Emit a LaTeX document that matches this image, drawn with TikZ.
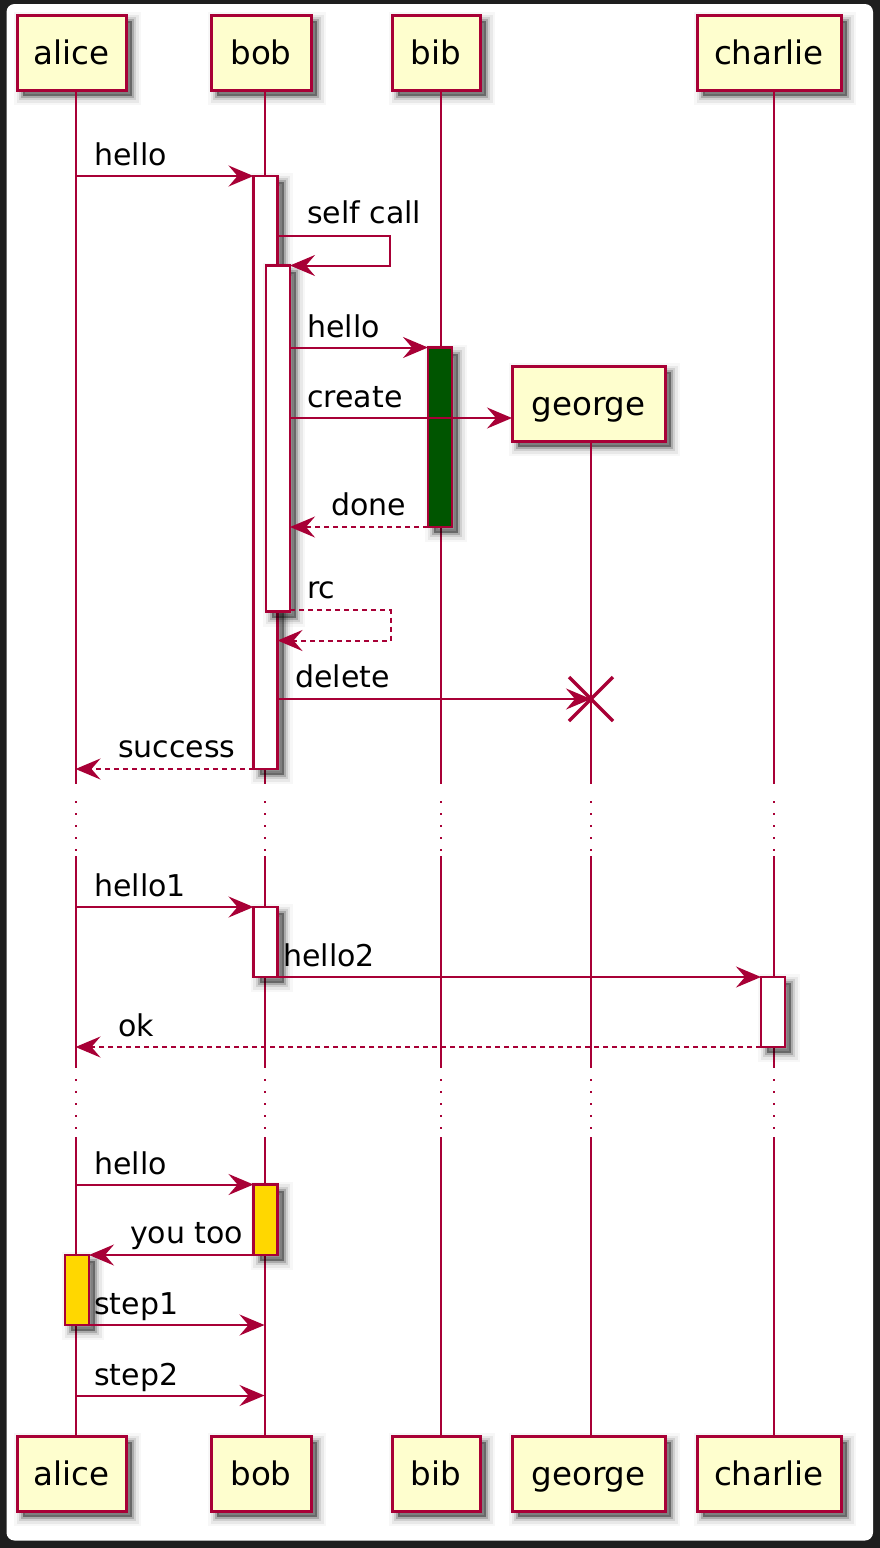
\documentclass[tikz,border=0pt]{standalone}
\usepackage{fontspec}
\setmainfont{DejaVu Sans}
\usetikzlibrary{arrows.meta,shadows}
\definecolor{pu}{HTML}{A80036}
\definecolor{pfill}{HTML}{FEFECE}
\definecolor{dgreen}{HTML}{005500}
\definecolor{gold}{HTML}{FFD700}
\definecolor{framec}{HTML}{1E1E1E}
\newcommand\partfont{\fontsize{32.5}{39}\selectfont}
\newcommand\msgfont{\fontsize{30}{36}\selectfont}
\tikzset{
  shad/.style={
    general shadow={fill=black,opacity=0.38,shadow xshift=6pt,shadow yshift=-6pt},
    general shadow={draw=black,fill=none,opacity=0.18,line width=4pt,shadow xshift=6pt,shadow yshift=-6pt},
    general shadow={draw=black,fill=none,opacity=0.10,line width=8pt,shadow xshift=6pt,shadow yshift=-6pt},
    general shadow={draw=black,fill=none,opacity=0.06,line width=13pt,shadow xshift=6pt,shadow yshift=-6pt},
    general shadow={draw=black,fill=none,opacity=0.03,line width=18pt,shadow xshift=6pt,shadow yshift=-6pt}},
  part/.style={draw=pu, fill=pfill, line width=3pt, inner sep=0pt, outer sep=0pt,
    minimum height=75pt, text height=24pt, text depth=0pt, font=\partfont, shad},
  actv/.style={draw=pu, line width=2.2pt, inner sep=0pt, outer sep=0pt, shad},
  life/.style={draw=pu, line width=2pt},
  dots/.style={draw=pu, line width=2pt, dash pattern=on 2pt off 10pt},
  msg/.style={draw=pu, line width=2pt, -{Stealth[length=25pt,width=21pt,inset=9pt]}},
  ret/.style={msg, dash pattern=on 5pt off 4pt},
  lbl/.style={font=\msgfont, inner sep=0pt, anchor=base west},
  xmark/.style={draw=pu, line width=3.5pt}
}
\begin{document}
\begin{tikzpicture}[x=1pt,y=-1pt]
\useasboundingbox (0,0) rectangle (880,1548);
\fill[framec] (0,0) rectangle (880,1548);
\fill[white, rounded corners=8pt] (6.5,4) rectangle (873,1540.5);

% lifeline x positions and gap marks
\coordinate (LA) at (75.5,0);
\coordinate (LB) at (264.5,0);
\coordinate (LI) at (440.5,0);
\coordinate (LG) at (591,0);
\coordinate (LC) at (773.5,0);
\coordinate (g1s) at (0,784);
\coordinate (g1d) at (0,801);
\coordinate (g1e) at (0,851);
\coordinate (g1r) at (0,856);
\coordinate (g2s) at (0,1068);
\coordinate (g2d) at (0,1079);
\coordinate (g2e) at (0,1130);
\coordinate (g2r) at (0,1137);

% participants
\node[part, minimum width=109pt] (aliceT) at (71.5,52.5) {alice};
\node[part, minimum width=100pt] (bobT) at (261,52.5) {bob};
\node[part, minimum width=88pt] (bibT) at (436,52.5) {bib};
\node[part, minimum width=144pt] (charlieT) at (769,52.5) {charlie};
\node[part, minimum width=153pt] (georgeT) at (588.5,403.5) {george};
\node[part, minimum width=109pt] (aliceB) at (71.5,1473.5) {alice};
\node[part, minimum width=100pt] (bobB) at (261,1473.5) {bob};
\node[part, minimum width=88pt] (bibB) at (436,1473.5) {bib};
\node[part, minimum width=153pt] (georgeB) at (588.5,1473.5) {george};
\node[part, minimum width=144pt] (charlieB) at (769,1473.5) {charlie};

% lifelines
\foreach \L/\T/\Bn in {LA/aliceT/aliceB, LB/bobT/bobB, LI/bibT/bibB, LG/georgeT/georgeB, LC/charlieT/charlieB}{
  \draw[life] (\L |- \T.south) -- (\L |- g1s);
  \draw[dots] (\L |- g1d) -- (\L |- g1e);
  \draw[life] (\L |- g1r) -- (\L |- g2s);
  \draw[dots] (\L |- g2d) -- (\L |- g2e);
  \draw[life] (\L |- g2r) -- (\L |- \Bn.north);
}

% activation bars
\node[actv, fill=white, minimum width=24pt, minimum height=593pt] (B1) at (265.5,472.5) {};
\node[actv, fill=white, minimum width=24pt, minimum height=346pt] (B2) at (278,438.5) {};
\node[actv, fill=dgreen, minimum width=24pt, minimum height=179.5pt] (Bib1) at (440,437.25) {};
\node[actv, fill=white, minimum width=24pt, minimum height=70pt] (B3) at (265.5,942) {};
\node[actv, fill=white, minimum width=24pt, minimum height=70pt] (C1) at (773,1012) {};
\node[actv, fill=gold, minimum width=24pt, minimum height=70.5pt] (B4) at (265.5,1219.75) {};
\node[actv, fill=gold, minimum width=24pt, minimum height=70pt] (A1) at (77,1290) {};

% helper coordinates
\coordinate (sc1) at (390,236);
\coordinate (cr) at (0,418);
\coordinate (rc1) at (390.5,610);
\coordinate (rc2) at (390.5,640.5);
\coordinate (gx) at (591,699);
\coordinate (s2) at (0,1395.5);

% messages
\draw[msg] (LA |- B1.north) -- (B1.north west);
\draw[msg] (B1.east |- sc1) -- (sc1) -- (sc1 |- B2.north) -- (B2.north east);
\draw[msg] (B2.east |- Bib1.north) -- (Bib1.north west);
\draw[msg] (B2.east |- cr) -- (georgeT.west |- cr);
\draw[ret] (Bib1.south west) -- (B2.east |- Bib1.south);
\draw[ret] (B2.east |- rc1) -- (rc1) -- (rc2) -- (B1.east |- rc2);
\draw[msg] (B1.east |- gx) -- (gx);
\draw[xmark] ([shift={(-22,-22)}]gx) -- ([shift={(22,22)}]gx);
\draw[xmark] ([shift={(-22,22)}]gx) -- ([shift={(22,-22)}]gx);
\draw[ret] (B1.south west) -- (LA |- B1.south);
\draw[msg] (LA |- B3.north) -- (B3.north west);
\draw[msg] (B3.south east) -- (C1.north west);
\draw[ret] (C1.south west) -- (LA |- C1.south);
\draw[msg] (LA |- B4.north) -- (B4.north west);
\draw[msg] (B4.south west) -- (A1.north east);
\draw[msg] (A1.south east) -- (LB |- A1.south);
\draw[msg] (LA |- s2) -- (LB |- s2);

% labels
\node[lbl] (t1) at (94,165.5) {hello};
\node[lbl] (t2) at (307,223) {self call};
\node[lbl] (t3) at (307,337) {hello};
\node[lbl] (t4) at (307,407) {create};
\node[lbl] (t5) at (331,515) {done};
\node[lbl] (t6) at (307,598) {rc};
\node[lbl] (t7) at (295,687) {delete};
\node[lbl] (t8) at (118,757) {success};
\node[lbl] (t9) at (94,896) {hello1};
\node[lbl] (t10) at (283,966) {hello2};
\node[lbl] (t11) at (118,1036) {ok};
\node[lbl] (t12) at (94,1174) {hello};
\node[lbl] (t13) at (130,1243) {you too};
\node[lbl] (t14) at (94,1314) {step1};
\node[lbl] (t15) at (94,1385) {step2};
\end{tikzpicture}
\end{document}
